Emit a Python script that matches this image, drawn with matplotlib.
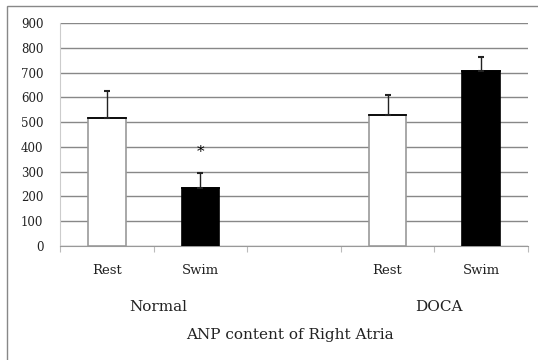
import matplotlib.pyplot as plt
import matplotlib.patches as mpatches
import numpy as np

plt.rcParams['font.family'] = ['DejaVu Serif']

# data
labels = ["Rest", "Swim", "", "Rest", "Swim"]
values = [515, 233, 0, 527, 706]
errors = [110, 62, 0, 82, 58]
colors = ["white", "black", "white", "white", "black"]
groups = ["Normal", "DOCA"]
group_pos = [0.55, 3.55]
star_idx = 1

fig = plt.figure(figsize=(5.38, 3.6), dpi=100)
ax = fig.add_axes([60 / 538, 114 / 360, 468 / 538, 223 / 360])

width = 0.4
x = np.arange(len(labels))
for i in x:
    if labels[i] == "":
        continue
    edge = "#999999" if colors[i] == "white" else "black"
    ax.bar(i, values[i], width, color=colors[i], edgecolor=edge, linewidth=1.2, zorder=3)
    # dark top edge like the original
    ax.plot([i - width / 2, i + width / 2], [values[i], values[i]], color="black", lw=1.3, zorder=3.5)
    ax.errorbar(i, values[i], yerr=[[0], [errors[i]]], fmt="none", ecolor="#222222",
                elinewidth=1, capsize=2.5, capthick=1.5, zorder=4)

ax.text(star_idx, values[star_idx] + errors[star_idx] + 85, "*", ha="center", va="center",
        fontsize=11, color="black")

ax.set_xlim(-0.5, 4.5)
ax.set_ylim(0, 900)
ax.set_yticks(range(0, 901, 100))
ax.tick_params(axis="y", length=0, labelsize=8.5, pad=12, labelcolor="#222222")
ax.yaxis.grid(True, color="#888888", linewidth=1)
ax.set_axisbelow(True)

ax.set_xticks(np.arange(-0.5, 5, 1))
ax.set_xticklabels([])
ax.tick_params(axis="x", length=4, color="#bbbbbb")
for i, lab in enumerate(labels):
    ax.text(i, -0.108, lab, transform=ax.get_xaxis_transform(), ha="center", va="center",
            fontsize=9.5, color="#222222")
for gp, g in zip(group_pos, groups):
    ax.text(gp, -0.274, g, transform=ax.get_xaxis_transform(), ha="center", va="center",
            fontsize=11, color="#222222")

for s in ["top", "right"]:
    ax.spines[s].set_visible(False)
ax.spines["left"].set_color("#cccccc")
ax.spines["bottom"].set_color("#999999")

fig.text(290 / 538, 1 - 335 / 360, "ANP content of Right Atria", ha="center", va="center",
         fontsize=11, color="#222222")

border = mpatches.Rectangle((7 / 538, -0.1), 1.2, 1 - 6 / 360 + 0.1, transform=fig.transFigure,
                            fill=False, edgecolor="#888888", linewidth=1)
fig.patches.append(border)

fig.savefig("out.png", dpi=100)
